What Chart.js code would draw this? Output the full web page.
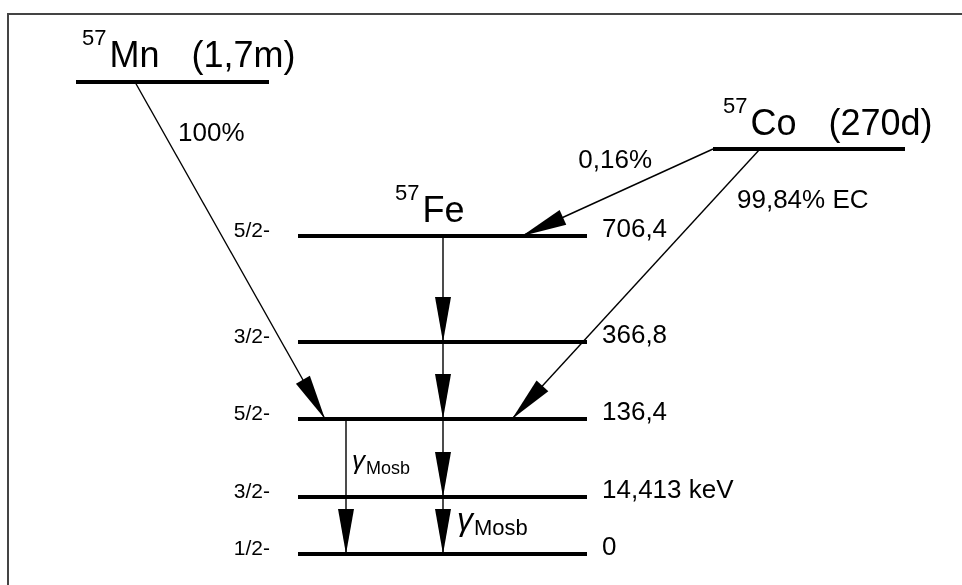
<!DOCTYPE html>
<html>
<head>
<meta charset="utf-8">
<script src="https://cdn.jsdelivr.net/npm/chart.js"></script>
<style>
  body { margin: 0; background: #fff; }
  #wrap { width: 962px; height: 585px; }
</style>
</head>
<body>
<div id="wrap"><canvas id="decay" width="962" height="585"></canvas></div>
<script>
// 57Fe levels: energy label, spin, schematic height (diagram units, top = 0)
var feEnergy = ["706,4", "366,8", "136,4", "14,413 keV", "0"];
var feSpin = ["5/2-", "3/2-", "5/2-", "3/2-", "1/2-"];
var feLevelY = [236, 342, 419, 497, 554];
var feLevelX = [298, 587];

// parent nuclei
var parentName = ["Mn", "Co"];
var parentMass = ["57", "57"];
var parentHalfLife = ["(1,7m)", "(270d)"];
var parentY = [82, 149];
var parentX = [[76, 269], [713, 905]];

// beta / EC branches: start point on parent, target Fe level, x where it lands
var branchLabel = ["100%", "0,16%", "99,84% EC"];
var branchFromX = [135, 713, 760];
var branchParent = [0, 1, 1];
var branchToLevel = [2, 0, 2];
var branchToX = [325, 522, 512];

// gamma cascade inside 57Fe
var cascadeX = 443;
var mosbX = 346;
var mosbFrom = 2, mosbTo = 4;

var FONT = "'Liberation Sans', Arial, sans-serif";
var datasets = [];

// level bars
feLevelY.forEach(function (y) {
  datasets.push({
    data: [{ x: feLevelX[0], y: y }, { x: feLevelX[1], y: y }],
    borderColor: "#000", borderWidth: 4, pointRadius: 0,
  });
});
parentY.forEach(function (y, i) {
  datasets.push({
    data: [{ x: parentX[i][0], y: y }, { x: parentX[i][1], y: y }],
    borderColor: "#000", borderWidth: 4, pointRadius: 0,
  });
});

// transitions (arrow = true gets a head at the last point)
branchLabel.forEach(function (lab, i) {
  datasets.push({
    data: [
      { x: branchFromX[i], y: parentY[branchParent[i]] },
      { x: branchToX[i], y: feLevelY[branchToLevel[i]] },
    ],
    borderColor: "#000", borderWidth: 1.4, pointRadius: 0, arrow: true,
  });
});
for (var k = 0; k < feLevelY.length - 1; k++) {
  datasets.push({
    data: [{ x: cascadeX, y: feLevelY[k] }, { x: cascadeX, y: feLevelY[k + 1] }],
    borderColor: "#000", borderWidth: 1.4, pointRadius: 0, arrow: true,
  });
}
datasets.push({
  data: [{ x: mosbX, y: feLevelY[mosbFrom] }, { x: mosbX, y: feLevelY[mosbTo] }],
  borderColor: "#000", borderWidth: 1.4, pointRadius: 0, arrow: true,
});

// frame round the picture (left and top edge only, the rest is cropped)
var framePlugin = {
  id: "frame",
  beforeDraw: function (chart) {
    var ctx = chart.ctx;
    ctx.save();
    ctx.fillStyle = "#fff";
    ctx.fillRect(0, 0, chart.width, chart.height);
    ctx.strokeStyle = "#444";
    ctx.lineWidth = 2;
    ctx.beginPath();
    ctx.moveTo(8, chart.height + 2);
    ctx.lineTo(8, 14);
    ctx.lineTo(chart.width + 2, 14);
    ctx.stroke();
    ctx.restore();
  },
};

// arrow heads, long and thin
var arrowPlugin = {
  id: "arrows",
  afterDatasetsDraw: function (chart) {
    var ctx = chart.ctx, xs = chart.scales.x, ys = chart.scales.y;
    chart.data.datasets.forEach(function (ds) {
      if (!ds.arrow) return;
      var a = ds.data[0], b = ds.data[ds.data.length - 1];
      var fx = xs.getPixelForValue(a.x), fy = ys.getPixelForValue(a.y);
      var tx = xs.getPixelForValue(b.x), ty = ys.getPixelForValue(b.y);
      var dx = tx - fx, dy = ty - fy, len = Math.sqrt(dx * dx + dy * dy);
      var ux = dx / len, uy = dy / len;
      var L = 45, W = 8;
      var bx = tx - ux * L, by = ty - uy * L;
      ctx.save();
      ctx.fillStyle = "#000";
      ctx.beginPath();
      ctx.moveTo(tx, ty);
      ctx.lineTo(bx - uy * W, by + ux * W);
      ctx.lineTo(bx + uy * W, by - ux * W);
      ctx.closePath();
      ctx.fill();
      ctx.restore();
    });
  },
};

function nuclide(ctx, x, y, mass, name, extra) {
  ctx.textAlign = "left";
  ctx.textBaseline = "alphabetic";
  ctx.font = "22px " + FONT;
  ctx.fillText(mass, x, y - 22);
  var w = ctx.measureText(mass).width + 3;
  ctx.font = "36px " + FONT;
  ctx.fillText(name, x + w, y);
  if (extra) {
    var w2 = ctx.measureText(name).width;
    ctx.fillText(extra, x + w + w2 + 32, y);
  }
}

function gammaLabel(ctx, x, y, big, small) {
  ctx.textAlign = "left";
  ctx.font = "italic " + big + "px " + FONT;
  ctx.fillText("\u03b3", x, y - 5);
  var w = ctx.measureText("\u03b3").width;
  ctx.font = small + "px " + FONT;
  ctx.fillText("Mosb", x + w + 1, y);
}

var labelPlugin = {
  id: "labels",
  afterDraw: function (chart) {
    var ctx = chart.ctx, xs = chart.scales.x, ys = chart.scales.y;
    var px = function (v) { return xs.getPixelForValue(v); };
    var py = function (v) { return ys.getPixelForValue(v); };
    ctx.save();
    ctx.fillStyle = "#000";
    ctx.textBaseline = "alphabetic";

    // energies on the right, spins on the left
    feLevelY.forEach(function (y, i) {
      ctx.font = "26px " + FONT;
      ctx.textAlign = "left";
      ctx.fillText(feEnergy[i], px(feLevelX[1]) + 15, py(y) + 1);
      ctx.font = "21px " + FONT;
      ctx.textAlign = "right";
      ctx.fillText(feSpin[i], px(feLevelX[0]) - 28, py(y) + 1);
    });

    // parent nuclei
    nuclide(ctx, px(parentX[0][0]) + 6, py(parentY[0]) - 15, parentMass[0], parentName[0], parentHalfLife[0]);
    nuclide(ctx, px(parentX[1][0]) + 10, py(parentY[1]) - 14, parentMass[1], parentName[1], parentHalfLife[1]);
    // daughter
    nuclide(ctx, px(cascadeX) - 48, py(feLevelY[0]) - 14, "57", "Fe", null);

    // branch ratios
    ctx.font = "26px " + FONT;
    var off = [[43, 59, "left"], [-61, 19, "right"], [-23, 59, "left"]];
    branchLabel.forEach(function (lab, i) {
      ctx.textAlign = off[i][2];
      ctx.fillText(lab, px(branchFromX[i]) + off[i][0], py(parentY[branchParent[i]]) + off[i][1]);
    });

    // Moessbauer gamma labels
    gammaLabel(ctx, px(mosbX) + 6, py(feLevelY[2]) + 55, 26, 18);
    gammaLabel(ctx, px(cascadeX) + 14, py(feLevelY[3]) + 38, 32, 22);
    ctx.restore();
  },
};

new Chart("decay", {
  type: "line",
  data: { datasets: datasets },
  options: {
    responsive: false,
    animation: false,
    events: [],
    layout: { padding: 0 },
    plugins: { legend: { display: false }, tooltip: { enabled: false } },
    scales: {
      x: { type: "linear", min: 0, max: 962, display: false },
      y: { type: "linear", min: 0, max: 585, reverse: true, display: false },
    },
  },
  plugins: [framePlugin, arrowPlugin, labelPlugin],
});
</script>
</body>
</html>
